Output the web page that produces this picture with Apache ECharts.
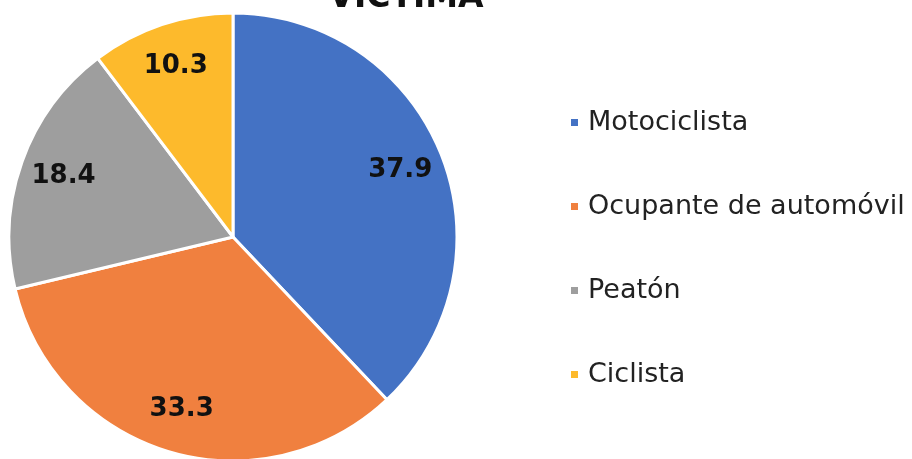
<!DOCTYPE html>
<html>
<head>
<meta charset="utf-8">
<script src="https://cdn.jsdelivr.net/npm/echarts@6/dist/echarts.min.js"></script>
<style>
  html, body { margin: 0; padding: 0; background: #fff; }
  #chart { width: 912px; height: 459px; }
</style>
</head>
<body>
<div id="chart"></div>
<script>
var categories = ["Motociclista", "Ocupante de automóvil", "Peatón", "Ciclista"];
var values = [37.9, 33.3, 18.4, 10.3];
var colors = ["#4472C4", "#F0803F", "#9E9E9E", "#FDBA2C"];

var pieData = categories.map(function (name, i) {
  return { name: name, value: values[i], itemStyle: { color: colors[i] } };
});
// transparent ring used only to place the value labels further out
var labelData = categories.map(function (name, i) {
  return { name: name, value: values[i], itemStyle: { color: "transparent" } };
});

var chart = echarts.init(document.getElementById("chart"));
chart.setOption({
  animation: false,
  title: {
    text: "VÍCTIMA",
    left: 401,
    textAlign: "center",
    top: -23,
    textStyle: {
      fontFamily: "DejaVu Sans",
      fontWeight: "bold",
      fontSize: 33,
      color: "#111"
    }
  },
  legend: {
    data: categories,
    orient: "vertical",
    left: 564,
    top: 102,
    icon: "rect",
    itemWidth: 9,
    itemHeight: 9,
    itemGap: 53,
    selectedMode: false,
    textStyle: {
      fontFamily: "DejaVu Sans",
      fontSize: 27,
      lineHeight: 31,
      color: "#222",
      padding: [0, 0, 0, 4]
    }
  },
  series: [
    {
      type: "pie",
      center: [233, 237],
      radius: [0, 224],
      startAngle: 90,
      clockwise: true,
      label: { show: false },
      labelLine: { show: false },
      itemStyle: { borderColor: "#fff", borderWidth: 3 },
      emphasis: { disabled: true },
      data: pieData
    },
    {
      type: "pie",
      center: [233, 237],
      radius: [130, 224],
      startAngle: 90,
      clockwise: true,
      silent: true,
      legendHoverLink: false,
      label: {
        show: true,
        position: "inside",
        formatter: "{c}",
        fontFamily: "DejaVu Sans",
        fontWeight: "bold",
        fontSize: 26,
        color: "#111"
      },
      labelLine: { show: false },
      emphasis: { disabled: true },
      data: labelData
    }
  ]
});
</script>
</body>
</html>
